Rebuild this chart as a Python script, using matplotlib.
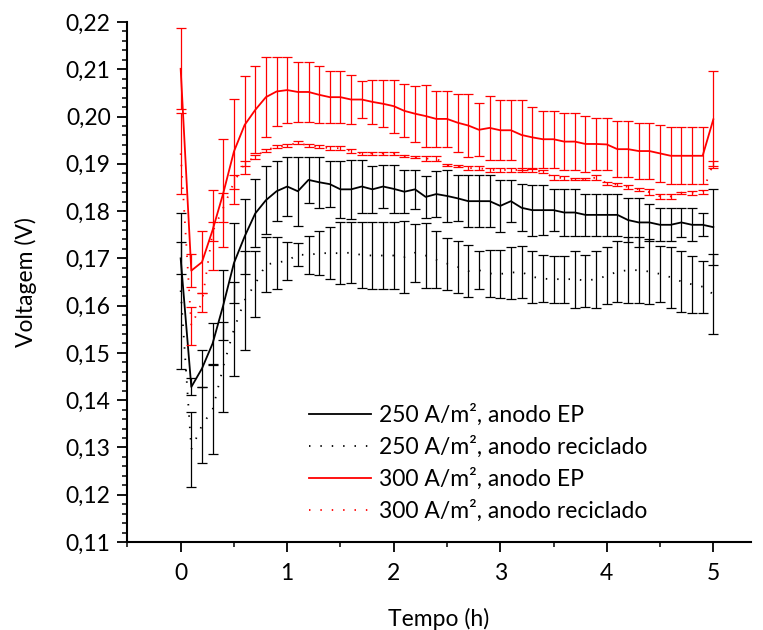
import numpy as np
import matplotlib
matplotlib.use("Agg")
import matplotlib.pyplot as plt
from matplotlib.ticker import MultipleLocator, FuncFormatter

plt.rcParams['font.family'] = ['Lato', 'DejaVu Sans']

t = np.round(np.arange(51) * 0.1, 1)

v250_ep = [0.1700, 0.1428, 0.1467, 0.1520, 0.1601, 0.1690, 0.1746, 0.1795, 0.1823, 0.1842,
           0.1852, 0.1842, 0.1866, 0.1861, 0.1857, 0.1846, 0.1846, 0.1852, 0.1846, 0.1852,
           0.1847, 0.1841, 0.1846, 0.1830, 0.1836, 0.1832, 0.1827, 0.1821, 0.1821, 0.1821,
           0.1811, 0.1821, 0.1807, 0.1802, 0.1802, 0.1802, 0.1797, 0.1797, 0.1792, 0.1792,
           0.1792, 0.1792, 0.1781, 0.1776, 0.1776, 0.1771, 0.1771, 0.1776, 0.1771, 0.1771,
           0.1766]
e250_ep = [0.0034, 0.0018, 0.0040, 0.0043, 0.0074, 0.0085, 0.0080, 0.0072, 0.0072, 0.0063,
           0.0063, 0.0073, 0.0049, 0.0054, 0.0049, 0.0060, 0.0062, 0.0056, 0.0050, 0.0046,
           0.0050, 0.0045, 0.0041, 0.0044, 0.0049, 0.0055, 0.0049, 0.0055, 0.0055, 0.0055,
           0.0055, 0.0044, 0.0050, 0.0054, 0.0053, 0.0044, 0.0050, 0.0050, 0.0044, 0.0044,
           0.0044, 0.0044, 0.0046, 0.0051, 0.0040, 0.0035, 0.0035, 0.0030, 0.0035, 0.0024,
           0.0080]

v250_rec = [0.1632, 0.1296, 0.1347, 0.1380, 0.1471, 0.1550, 0.1611, 0.1646, 0.1687, 0.1691,
            0.1695, 0.1708, 0.1707, 0.1711, 0.1711, 0.1711, 0.1712, 0.1707, 0.1706, 0.1706,
            0.1706, 0.1703, 0.1712, 0.1706, 0.1697, 0.1689, 0.1682, 0.1673, 0.1675, 0.1668,
            0.1667, 0.1670, 0.1671, 0.1661, 0.1657, 0.1656, 0.1656, 0.1656, 0.1653, 0.1656,
            0.1663, 0.1672, 0.1675, 0.1675, 0.1672, 0.1667, 0.1660, 0.1651, 0.1645, 0.1640,
            0.1624]
e250_rec = [0.0165, 0.0079, 0.0080, 0.0094, 0.0095, 0.0099, 0.0104, 0.0070, 0.0059, 0.0055,
            0.0040, 0.0025, 0.0041, 0.0046, 0.0055, 0.0065, 0.0065, 0.0070, 0.0070, 0.0070,
            0.0070, 0.0076, 0.0061, 0.0069, 0.0060, 0.0055, 0.0055, 0.0055, 0.0040, 0.0050,
            0.0050, 0.0055, 0.0055, 0.0055, 0.0050, 0.0050, 0.0050, 0.0060, 0.0055, 0.0060,
            0.0060, 0.0065, 0.0070, 0.0070, 0.0069, 0.0060, 0.0065, 0.0065, 0.0060, 0.0055,
            0.0085]

v300_ep = [0.2101, 0.1674, 0.1692, 0.1760, 0.1838, 0.1926, 0.1982, 0.2014, 0.2041, 0.2053,
           0.2056, 0.2052, 0.2052, 0.2046, 0.2041, 0.2041, 0.2036, 0.2036, 0.2031, 0.2027,
           0.2022, 0.2012, 0.2006, 0.2001, 0.1995, 0.1995, 0.1987, 0.1981, 0.1972, 0.1976,
           0.1971, 0.1971, 0.1961, 0.1956, 0.1952, 0.1952, 0.1947, 0.1947, 0.1942, 0.1942,
           0.1941, 0.1931, 0.1931, 0.1927, 0.1927, 0.1922, 0.1917, 0.1917, 0.1917, 0.1917,
           0.1994]
e300_ep = [0.0086, 0.0035, 0.0065, 0.0085, 0.0115, 0.0111, 0.0104, 0.0092, 0.0085, 0.0073,
           0.0069, 0.0064, 0.0064, 0.0060, 0.0055, 0.0055, 0.0051, 0.0040, 0.0046, 0.0050,
           0.0056, 0.0056, 0.0059, 0.0065, 0.0059, 0.0059, 0.0061, 0.0066, 0.0056, 0.0068,
           0.0063, 0.0063, 0.0075, 0.0064, 0.0060, 0.0060, 0.0060, 0.0060, 0.0060, 0.0055,
           0.0055, 0.0059, 0.0059, 0.0059, 0.0059, 0.0060, 0.0060, 0.0060, 0.0060, 0.0060,
           0.0102]

v300_rec = [0.1922, 0.1557, 0.1607, 0.1756, 0.1807, 0.1861, 0.1901, 0.1915, 0.1929, 0.1936,
            0.1938, 0.1945, 0.1938, 0.1936, 0.1933, 0.1933, 0.1927, 0.1922, 0.1922, 0.1922,
            0.1922, 0.1917, 0.1915, 0.1911, 0.1911, 0.1897, 0.1895, 0.1891, 0.1891, 0.1887,
            0.1887, 0.1887, 0.1887, 0.1886, 0.1883, 0.1871, 0.1870, 0.1867, 0.1867, 0.1871,
            0.1859, 0.1856, 0.1851, 0.1846, 0.1840, 0.1831, 0.1831, 0.1839, 0.1839, 0.1840,
            0.1901]
e300_rec = [0.0085, 0.0040, 0.0020, 0.0020, 0.0031, 0.0015, 0.0005, 0.0004, 0.0003, 0.0003,
            0.0003, 0.0003, 0.0003, 0.0003, 0.0004, 0.0004, 0.0004, 0.0004, 0.0004, 0.0004,
            0.0004, 0.0002, 0.0002, 0.0005, 0.0005, 0.0002, 0.0002, 0.0005, 0.0005, 0.0004,
            0.0004, 0.0004, 0.0004, 0.0004, 0.0003, 0.0005, 0.0005, 0.0002, 0.0002, 0.0005,
            0.0003, 0.0003, 0.0005, 0.0003, 0.0006, 0.0006, 0.0006, 0.0002, 0.0004, 0.0004,
            0.0005]

labels = ['250 A/m², anodo EP', '250 A/m², anodo reciclado',
          '300 A/m², anodo EP', '300 A/m², anodo reciclado']

W, H = 763, 630
fig = plt.figure(figsize=(W / 100, H / 100), dpi=100)
ax = fig.add_axes([127.4 / W, 1 - 542 / H, (750.6 - 127.4) / W, (542 - 22) / H])

dots = (0, (0.8, 5.5))
eb = dict(fmt='none', capsize=3.6, elinewidth=0.9, capthick=0.9)
series = [
    (v250_ep, e250_ep, 'black', '-', 1.3),
    (v250_rec, e250_rec, 'black', dots, 1.3),
    (v300_ep, e300_ep, 'red', '-', 1.3),
    (v300_rec, e300_rec, 'red', dots, 1.3),
]
handles = []
for (v, e, c, ls, lw), lab in zip(series, labels):
    ax.errorbar(t, v, yerr=e, ecolor=c, **eb)
    ln, = ax.plot(t, v, color=c, linestyle=ls, lw=lw, label=lab)
    handles.append(ln)

ax.set_xlim(-0.5, 5.35)
ax.set_ylim(0.11, 0.22)
ax.xaxis.set_major_locator(MultipleLocator(1))
ax.xaxis.set_minor_locator(MultipleLocator(0.5))
ax.yaxis.set_major_locator(MultipleLocator(0.01))
ax.yaxis.set_minor_locator(MultipleLocator(0.002))
ax.yaxis.set_major_formatter(FuncFormatter(lambda v, p: f"{v:.2f}".replace('.', ',')))
ax.xaxis.set_major_formatter(FuncFormatter(lambda v, p: f"{v:.0f}"))

for s in ['top', 'right']:
    ax.spines[s].set_visible(False)
for s in ['left', 'bottom']:
    ax.spines[s].set_linewidth(1.5)
ax.tick_params(which='major', direction='out', length=7, width=1.3, labelsize=16.5, pad=5)
ax.tick_params(which='minor', direction='out', length=3.8, width=1.1)
ax.tick_params(axis='x', which='major', pad=8)

ax.set_xlabel('Tempo (h)', fontsize=16.5, labelpad=17)
ax.set_ylabel('Voltagem (V)', fontsize=16.5, labelpad=21)

leg = fig.legend(handles=handles, loc='upper left',
                 bbox_to_anchor=(300 / W, 1 - 395 / H), frameon=False,
                 fontsize=16.5, handlelength=2.7, handletextpad=0.35,
                 labelspacing=0.42, borderaxespad=0)

fig.savefig('out.png', dpi=100)
